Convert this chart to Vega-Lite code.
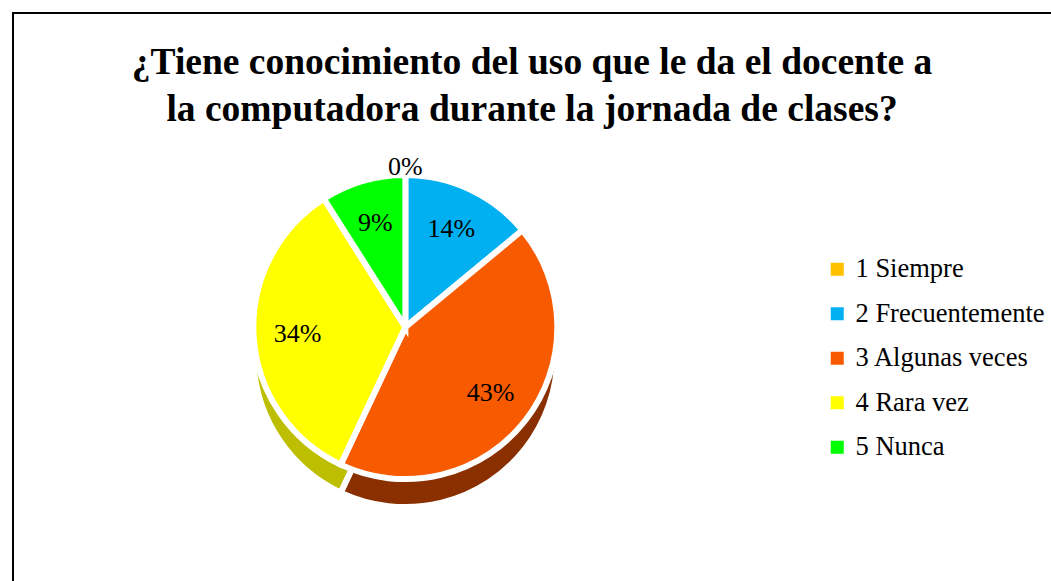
{
  "$schema": "https://vega.github.io/schema/vega-lite/v6.json",
  "width": 1051,
  "height": 581,
  "autosize": {"type": "fit", "contains": "padding"},
  "padding": {"left": 12, "top": 12, "right": 0, "bottom": 0},
  "background": "white",
  "config": {
    "view": {"stroke": null},
    "font": "Liberation Serif"
  },
  "title": {
    "text": ["¿Tiene conocimiento del uso que le da el docente a", "la computadora durante la jornada de clases?"],
    "font": "Liberation Serif",
    "fontSize": 37.5,
    "fontWeight": "bold",
    "lineHeight": 47,
    "color": "black",
    "anchor": "middle",
    "frame": "group",
    "offset": -116
  },
  "data": {
    "values": [
      {"categoria": "1 Siempre", "valor": 0, "etiqueta": "0%"},
      {"categoria": "2 Frecuentemente", "valor": 14, "etiqueta": "14%"},
      {"categoria": "3 Algunas veces", "valor": 43, "etiqueta": "43%"},
      {"categoria": "4 Rara vez", "valor": 34, "etiqueta": "34%"},
      {"categoria": "5 Nunca", "valor": 9, "etiqueta": "9%"}
    ]
  },
  "layer": [
    {
      "data": {"values": [{}]},
      "mark": {"type": "rect", "fill": "black", "strokeWidth": 0,
               "x": -1, "y": -1, "x2": {"expr": "width"}, "y2": 1},
      "encoding": {}
    },
    {
      "data": {"values": [{}]},
      "mark": {"type": "rect", "fill": "black", "strokeWidth": 0,
               "x": -1, "y": -1, "x2": 1, "y2": {"expr": "height"}},
      "encoding": {}
    },
    {
      "mark": {"type": "arc", "outerRadius": 152, "stroke": "white", "strokeWidth": 6,
               "x": {"expr": "width*0.378"}, "y": {"expr": "height*0.553 + 28"}},
      "encoding": {
        "theta": {"field": "valor", "type": "quantitative", "stack": true},
        "order": {"field": "categoria", "type": "nominal", "sort": "ascending"},
        "color": {
          "field": "categoria", "type": "nominal", "legend": null,
          "scale": {"domain": ["1 Siempre", "2 Frecuentemente", "3 Algunas veces", "4 Rara vez", "5 Nunca"],
                    "range": ["#D9A300", "#005E7E", "#8A3000", "#BEBE00", "#006000"]}
        }
      }
    },
    {
      "mark": {"type": "arc", "outerRadius": 152, "stroke": "white", "strokeWidth": 6,
               "x": {"expr": "width*0.378"}, "y": {"expr": "height*0.553"}},
      "encoding": {
        "theta": {"field": "valor", "type": "quantitative", "stack": true},
        "order": {"field": "categoria", "type": "nominal", "sort": "ascending"},
        "color": {
          "field": "categoria", "type": "nominal",
          "scale": {"domain": ["1 Siempre", "2 Frecuentemente", "3 Algunas veces", "4 Rara vez", "5 Nunca"],
                    "range": ["#FFC000", "#00B0F0", "#F85A00", "#FFFF00", "#00FF00"]},
          "legend": {
            "title": null,
            "orient": "none",
            "legendX": 811,
            "legendY": 243,
            "symbolType": "square",
            "symbolSize": 169,
            "symbolStrokeWidth": 0,
            "labelFont": "Liberation Serif",
            "labelFontSize": 26.5,
            "labelColor": "black",
            "labelOffset": 5,
            "labelLimit": 400,
            "rowPadding": 17.5,
            "padding": 0
          }
        }
      }
    },
    {
      "transform": [{"filter": "datum.valor > 0"}],
      "mark": {"type": "text", "radius": 108, "font": "Liberation Serif", "fontSize": 26, "color": "black",
               "x": {"expr": "width*0.378"}, "y": {"expr": "height*0.553"}},
      "encoding": {
        "theta": {"field": "valor", "type": "quantitative", "stack": true},
        "order": {"field": "categoria", "type": "nominal", "sort": "ascending"},
        "text": {"field": "etiqueta"}
      }
    },
    {
      "mark": {"type": "text", "radius": 160, "font": "Liberation Serif", "fontSize": 26, "color": "black",
               "x": {"expr": "width*0.378"}, "y": {"expr": "height*0.553"}},
      "transform": [{"filter": "datum.valor == 0"}],
      "encoding": {
        "theta": {"field": "valor", "type": "quantitative", "stack": true},
        "text": {"field": "etiqueta"}
      }
    }
  ],
  "resolve": {"scale": {"color": "independent"}}
}
